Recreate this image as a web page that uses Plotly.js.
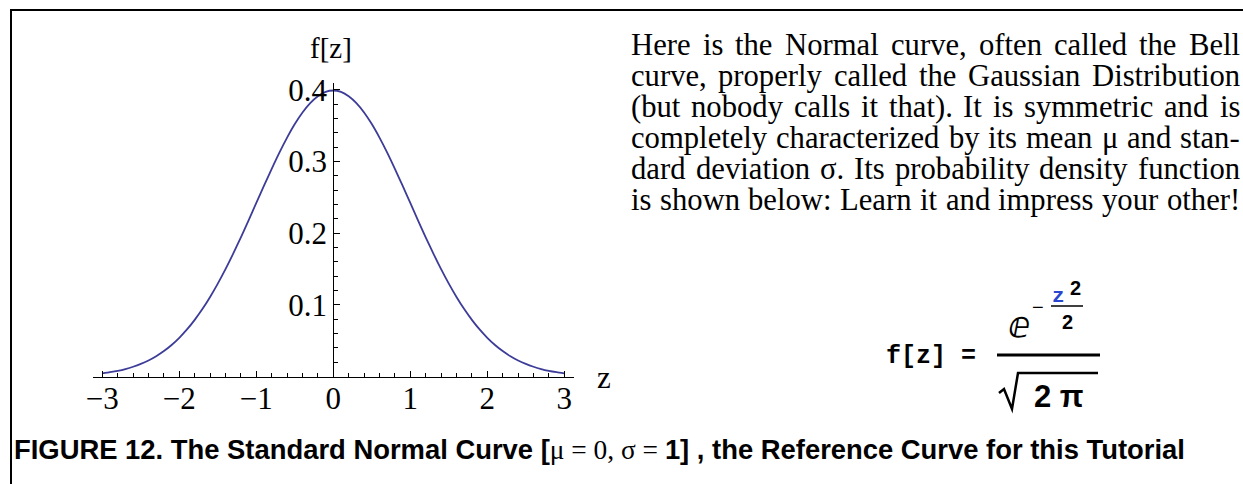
<!DOCTYPE html>
<html>
<head>
<meta charset="utf-8">
<script src="https://cdn.plot.ly/plotly-3.0.1.min.js"></script>
<style>
  html, body { margin: 0; padding: 0; background: #ffffff; }
  #chart { width: 1243px; height: 484px; }
</style>
</head>
<body>
<div id="chart"></div>
<script>
// Standard normal density f[z], sampled every 0.1 on [-3, 3]
const zValues = [
  -3.0, -2.9, -2.8, -2.7, -2.6, -2.5, -2.4, -2.3, -2.2, -2.1,
  -2.0, -1.9, -1.8, -1.7, -1.6, -1.5, -1.4, -1.3, -1.2, -1.1,
  -1.0, -0.9, -0.8, -0.7, -0.6, -0.5, -0.4, -0.3, -0.2, -0.1,
   0.0,  0.1,  0.2,  0.3,  0.4,  0.5,  0.6,  0.7,  0.8,  0.9,
   1.0,  1.1,  1.2,  1.3,  1.4,  1.5,  1.6,  1.7,  1.8,  1.9,
   2.0,  2.1,  2.2,  2.3,  2.4,  2.5,  2.6,  2.7,  2.8,  2.9,
   3.0
];
const fValues = [
  0.0044, 0.0060, 0.0079, 0.0104, 0.0136, 0.0175, 0.0224, 0.0283, 0.0355, 0.0440,
  0.0540, 0.0656, 0.0790, 0.0940, 0.1109, 0.1295, 0.1497, 0.1714, 0.1942, 0.2179,
  0.2420, 0.2661, 0.2897, 0.3123, 0.3332, 0.3521, 0.3683, 0.3814, 0.3910, 0.3970,
  0.3989,
  0.3970, 0.3910, 0.3814, 0.3683, 0.3521, 0.3332, 0.3123, 0.2897, 0.2661, 0.2420,
  0.2179, 0.1942, 0.1714, 0.1497, 0.1295, 0.1109, 0.0940, 0.0790, 0.0656, 0.0540,
  0.0440, 0.0355, 0.0283, 0.0224, 0.0175, 0.0136, 0.0104, 0.0079, 0.0060, 0.0044
];

// Axis ticks and their labels
const xTickVals = [-3, -2, -1, 0, 1, 2, 3];
const xTickText = ['\u22123', '\u22122', '\u22121', '0', '1', '2', '3'];
const yTickVals = [0.1, 0.2, 0.3, 0.4];
const yTickText = ['0.1', '0.2', '0.3', '0.4'];

// Text beside the plot
const paragraphLines = [
  'Here is the Normal curve, often called the Bell',
  'curve, properly called the Gaussian Distribution',
  '(but nobody calls it that). It is symmetric and is',
  'completely characterized by its mean \u03bc and stan-',
  'dard deviation \u03c3. Its probability density function',
  'is shown below: Learn it and impress your other!'
];
const captionBold1 = 'FIGURE 12. The Standard Normal Curve [';
const captionSerif = '\u03bc = 0, \u03c3 = ';
const captionBold2 = '1] , the Reference Curve for this Tutorial';

// ---- page geometry (pixels) ----
const W = 1243, H = 484;
const px = x => x / W;          // pixel x -> paper x
const py = y => 1 - y / H;      // pixel y -> paper y

const originX = 333.3, originY = 376.5;  // where the axes cross
const unitX = 77, unitY = 717;           // pixels per data unit
const xRange = [-3.125, 3.12];
const yRange = [0, 0.41];

const SERIF = '"Liberation Serif", "Times New Roman", serif';
const SANS = '"Liberation Sans", Arial, sans-serif';
const MONO = '"Liberation Mono", "Courier New", monospace';

const annotations = [];
const shapes = [];

function addText(text, x, y, size, opts) {
  annotations.push(Object.assign({
    text: text, xref: 'paper', yref: 'paper', x: px(x), y: py(y),
    xanchor: 'center', yanchor: 'middle', showarrow: false,
    borderpad: 0, borderwidth: 0,
    font: { family: SERIF, size: size, color: '#000000' }
  }, opts || {}));
}

// Axis labels at the axis ends
addText('f[z]', 331, 48, 29);
addText('z', 604, 377, 31);

// Justified paragraph, word by word
const paraLeft = 631, paraRight = 1240, paraTop = 45, paraLead = 30.9;
const canvas = document.createElement('canvas');
const ctx = canvas.getContext('2d');
ctx.font = '100px "Liberation Serif"';
const widest = Math.max(...paragraphLines.map(l => ctx.measureText(l).width));
const paraSize = 100 * (paraRight - paraLeft - 6) / widest;
ctx.font = paraSize + 'px "Liberation Serif"';
paragraphLines.forEach((line, i) => {
  const words = line.split(' ');
  const widths = words.map(w => ctx.measureText(w).width);
  const total = widths.reduce((a, b) => a + b, 0);
  const gap = (paraRight - paraLeft - total) / (words.length - 1);
  let x = paraLeft;
  words.forEach((w, k) => {
    addText(w, x, paraTop + i * paraLead, paraSize, { xanchor: 'left' });
    x += widths[k] + gap;
  });
});

// Density formula
addText('<b>f[z] =</b>', 931, 356, 25, { font: { family: MONO, size: 25, color: '#000000' } });
addText('\u2147', 1019, 324, 36, { font: { family: '"DejaVu Sans", sans-serif', size: 36, color: '#000000' } });
addText('\u2212', 1038, 307, 20, { font: { family: SANS, size: 20, color: '#000000' } });
addText('<b>z</b>', 1058, 296, 21, { font: { family: MONO, size: 21, color: '#2a45d0' } });
addText('<b>2</b>', 1075, 288, 20, { font: { family: SANS, size: 20, color: '#000000' } });
addText('<b>2</b>', 1067, 322, 20, { font: { family: SANS, size: 20, color: '#000000' } });
addText('<b>2 \u03c0</b>', 1059, 396, 31, { font: { family: SANS, size: 31, color: '#000000' } });

shapes.push({ type: 'line', xref: 'paper', yref: 'paper', x0: px(1051), x1: px(1083), y0: py(306), y1: py(306),
  line: { color: '#000000', width: 1.5 } });
shapes.push({ type: 'line', xref: 'paper', yref: 'paper', x0: px(997), x1: px(1100), y0: py(355), y1: py(355),
  line: { color: '#000000', width: 3 } });
// radical sign over 2π
const rad = [[999, 393], [1004, 389], [1012, 409], [1018, 373], [1098, 373]];
shapes.push({ type: 'path', xref: 'paper', yref: 'paper',
  path: rad.map((p, k) => (k ? 'L' : 'M') + px(p[0]) + ',' + py(p[1])).join(' '),
  line: { color: '#000000', width: 2.5 } });

// Caption
addText('<b>' + captionBold1 + '</b><span style="font-family:\'Liberation Serif\'">' + captionSerif +
  '</span><b>' + captionBold2 + '</b>', 14, 449, 27.4,
  { xanchor: 'left', font: { family: SANS, size: 27.4, color: '#000000' } });

// Frame around the figure (top and left edges)
shapes.push({ type: 'line', xref: 'paper', yref: 'paper', x0: px(10), x1: px(1243), y0: py(10), y1: py(10),
  line: { color: '#000000', width: 2 } });
shapes.push({ type: 'line', xref: 'paper', yref: 'paper', x0: px(11), x1: px(11), y0: py(10), y1: py(484),
  line: { color: '#000000', width: 2 } });

const trace = {
  x: zValues, y: fValues, type: 'scatter', mode: 'lines',
  line: { color: '#3d3d99', width: 1.8, shape: 'spline', smoothing: 0.6 },
  hoverinfo: 'x+y', cliponaxis: false
};

const tickFont = { family: SERIF, size: 31, color: '#000000' };
const layout = {
  width: W, height: H,
  margin: { l: 0, r: 0, t: 0, b: 0, pad: 0 },
  paper_bgcolor: '#ffffff', plot_bgcolor: 'rgba(0,0,0,0)',
  showlegend: false,
  xaxis: {
    domain: [px(originX + xRange[0] * unitX), px(originX + xRange[1] * unitX)],
    range: xRange, anchor: 'y',
    showline: true, linecolor: '#000000', linewidth: 1,
    showgrid: false, zeroline: false,
    tickmode: 'array', tickvals: xTickVals, ticktext: xTickText,
    ticks: 'inside', ticklen: 6, tickwidth: 1, tickcolor: '#000000',
    tickfont: tickFont, ticklabelstandoff: -6,
    minor: { tickmode: 'linear', tick0: 0, dtick: 0.2, ticks: 'inside', ticklen: 3.5, tickwidth: 1, tickcolor: '#000000', showgrid: false },
    fixedrange: true
  },
  yaxis: {
    domain: [py(originY - yRange[0] * unitY), py(originY - yRange[1] * unitY)],
    range: yRange, anchor: 'free', position: px(originX), side: 'left',
    showline: true, linecolor: '#000000', linewidth: 1,
    showgrid: false, zeroline: false,
    tickmode: 'array', tickvals: yTickVals, ticktext: yTickText,
    ticks: 'inside', ticklen: 6, tickwidth: 1, tickcolor: '#000000',
    tickfont: tickFont, ticklabelstandoff: 0,
    minor: { tickmode: 'linear', tick0: 0, dtick: 0.02, ticks: 'inside', ticklen: 3.5, tickwidth: 1, tickcolor: '#000000', showgrid: false },
    fixedrange: true
  },
  annotations: annotations,
  shapes: shapes
};

Plotly.newPlot('chart', [trace], layout, { displayModeBar: false, staticPlot: true });
</script>
</body>
</html>
